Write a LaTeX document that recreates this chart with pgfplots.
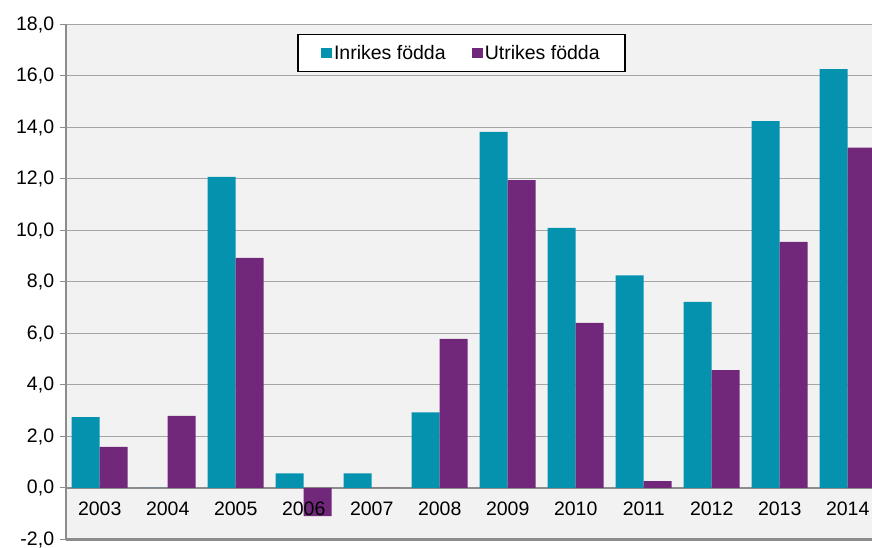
\documentclass[border=0pt]{standalone}
\usepackage{pgfplots}
\pgfplotsset{compat=1.18}
\usepackage{fontspec}
\setmainfont{Liberation Sans}
\definecolor{teal}{RGB}{4,146,174}
\definecolor{purp}{RGB}{113,40,122}
\definecolor{bgc}{RGB}{242,242,242}
\definecolor{gridc}{RGB}{165,165,165}
\definecolor{axc}{RGB}{140,140,140}
\pgfplotsset{layers/labelsontop/.define layer set={axis background,axis grid,axis ticks,axis lines,pre main,main,axis tick labels,axis descriptions,axis foreground}{/pgfplots/layers/standard}}
\begin{document}
\begin{tikzpicture}[font=\fontsize{19.5bp}{23bp}\selectfont]
\begin{axis}[
  set layers=labelsontop,
  at={(0,0)}, anchor=south west,
  scale only axis, width=806.3bp, height=515bp,
  xmin=-0.5, xmax=11.357, ymin=-2, ymax=18,
  axis background/.style={fill=bgc},
  axis x line*=bottom, axis y line*=left,
  axis line style={axc, line width=2bp},
  ytick={-2,0,...,18},
  xtick={0,...,11},
  xticklabels={2003,2004,2005,2006,2007,2008,2009,2010,2011,2012,2013,2014},
  ymajorgrids, grid style={gridc, line width=1bp},
  tick align=outside, major tick length=6bp,
  ytick style={axc, line width=1bp},
  xtick style={draw=none},
  extra y ticks={0}, extra y tick labels={},
  extra y tick style={grid style={axc, line width=1.8bp}, tick style={draw=none}},
  /pgf/number format/.cd, fixed, fixed zerofill, precision=1, use comma, assume math mode=true,
  /pgfplots/.cd,
  y tick label style={inner sep=0pt, anchor=east, xshift=-5.4bp},
  x tick label style={inner sep=0pt, anchor=center, yshift=37.2bp},
  legend style={draw=black, line width=1.4bp, fill=white,
    at={(0.4909,0.9447)}, anchor=center, legend columns=2,
    inner xsep=23bp, inner ysep=8.5bp,
    /tikz/every even column/.append style={column sep=24bp},
    nodes={inner xsep=2.2bp}},
  legend cell align=left,
  legend image code/.code={\fill[#1] (0bp,-5.35bp) rectangle (10.7bp,5.35bp);},
]
\addplot[ybar, bar width=28bp, bar shift=-14bp, fill=teal, draw=none] coordinates {
(0,2.75) (1,0) (2,12.08) (3,0.57) (4,0.57) (5,2.94) (6,13.83) (7,10.10) (8,8.26) (9,7.23) (10,14.25) (11,16.27)};
\addlegendentry{Inrikes födda}
\addplot[ybar, bar width=28bp, bar shift=14bp, fill=purp, draw=none] coordinates {
(0,1.60) (1,2.80) (2,8.94) (3,-1.09) (4,0) (5,5.79) (6,11.96) (7,6.41) (8,0.27) (9,4.58) (10,9.56) (11,13.22)};
\addlegendentry{Utrikes födda}
\end{axis}
\pgfresetboundingbox
\path (-65.7bp,-8.5bp) rectangle (806.3bp,539.5bp);
\end{tikzpicture}
\end{document}
